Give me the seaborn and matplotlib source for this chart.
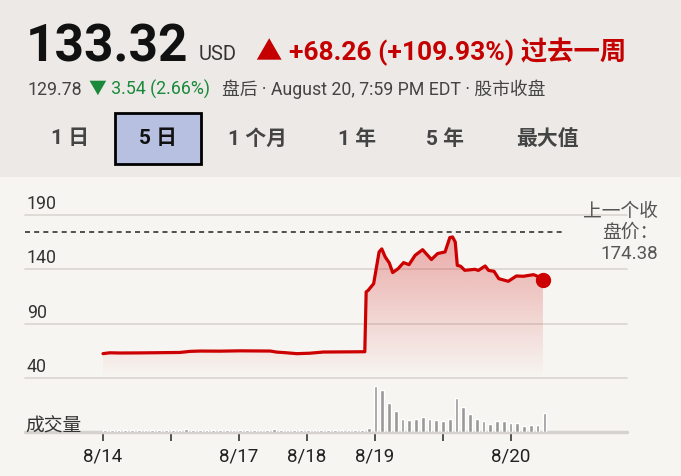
import numpy as np
import matplotlib
matplotlib.use("Agg")
import matplotlib.pyplot as plt
import seaborn as sns
from matplotlib.patches import Rectangle

# price line, x in chart units (0 = 8/14 tick, 1 unit per tick)
price_x = [0.00, 0.10, 0.25, 0.54, 0.84, 1.13, 1.28, 1.43, 1.72, 2.01, 2.24, 2.46, 2.56, 2.68,
           2.85, 3.04, 3.24, 3.49, 3.71, 3.85, 3.87, 3.90, 3.98, 4.06, 4.10, 4.15, 4.21, 4.26,
           4.34, 4.42, 4.50, 4.59, 4.70, 4.83, 4.92, 5.03, 5.10, 5.14, 5.18, 5.21, 5.26, 5.32,
           5.47, 5.52, 5.62, 5.67, 5.75, 5.82, 5.96, 6.08, 6.18, 6.33, 6.38, 6.47]
price_y = [62.4, 63.2, 63.0, 63.1, 63.3, 63.5, 64.5, 64.8, 64.7, 65.0, 64.9, 64.8, 63.8, 63.3,
           62.4, 62.8, 63.9, 64.0, 64.1, 64.2, 119.2, 120.7, 126.8, 156.0, 158.8, 151.4, 145.9, 137.0,
           140.6, 146.2, 144.3, 152.9, 158.1, 149.0, 154.5, 156.0, 169.2, 169.8, 165.2, 143.7, 142.8, 139.1,
           140.0, 139.0, 143.1, 139.0, 138.2, 131.4, 129.0, 133.9, 133.6, 135.1, 133.9, 129.9]

# volume bars (relative height)
volume = [7, 7, 7, 7, 7, 7, 7, 7, 7, 7, 7, 7, 10, 7, 7, 7, 7, 7, 7, 7, 7, 7, 7, 7, 7, 9,
          7, 7, 7, 7, 7, 7, 7, 7, 7, 7, 7,
          6, 6, 12, 138, 127, 88, 64, 39, 37, 39, 46, 40, 37, 34, 40, 103, 76, 53, 40, 32,
          23, 32, 33, 28, 27, 19, 22, 22, 57]
vol_start = 0.03
vol_step = 0.0994

tick_pos = [0, 1, 2, 3, 4, 5, 6]
tick_labels = ["8/14", "", "8/17", "8/18", "8/19", "", "8/20"]
y_ticks = [40, 90, 140, 190]
prev_close = 174.38

ranges = ["1 日", "5 日", "1 个月", "1 年", "5 年", "最大值"]
range_px = [70, 158, 257, 357, 445, 547]

sns.set_theme(style="white")
plt.rcParams["font.family"] = ["Roboto", "Noto Sans CJK SC", "DejaVu Sans"]

W, H = 681, 477
HEAD_BG = "#ece9e6"
CHART_BG = "#f7f5f1"
RED = "#cc0000"

fig = plt.figure(figsize=(W / 100, H / 100), dpi=100)
fig.patch.set_facecolor(HEAD_BG)
fig.add_artist(Rectangle((0, 0), 1, 1 - 177.5 / H, transform=fig.transFigure,
                         facecolor=CHART_BG, edgecolor="none", zorder=0))

def fx(px):
    return px / W

def fy(px):
    return 1 - px / H

#header
fig.text(fx(26), fy(62), "133.32", fontsize=37, fontweight="bold", color="#111111", va="baseline")
fig.text(fx(199), fy(60), "USD", fontsize=14.5, color="#333333", va="baseline")
fig.text(fx(256), fy(60), "▲ +68.26 (+109.93%) 过去一周", fontsize=19, fontweight="bold",
         color="#c40000", va="baseline")
fig.text(fx(27), fy(95), "129.78", fontsize=12.8, color="#444444", va="baseline")
fig.text(fx(89), fy(95), "▼ 3.54 (2.66%)", fontsize=12.8, color="#1a8a3a", va="baseline")
fig.text(fx(222), fy(95), "盘后 · August 20, 7:59 PM EDT · 股市收盘", fontsize=12.8,
         color="#444444", va="baseline")

#range buttons
fig.add_artist(Rectangle((fx(115), fy(165)), 86 / W, 51 / H, transform=fig.transFigure,
                         facecolor="#b8c0e2", edgecolor="#000000", linewidth=2))
for lab, px in zip(ranges, range_px):
    col = "#111111" if lab == "5 日" else "#444444"
    fig.text(fx(px), fy(139), lab, fontsize=15, fontweight="bold", color=col,
             ha="center", va="center")

xmin = (25 - 103) / 68
xmax = (627 - 103) / 68

#price axes
ax = fig.add_axes([fx(25), fy(379), 602 / W, 163 / H])
ax.patch.set_alpha(0)
for v in y_ticks:
    ax.axhline(v, color="#dcd9d5", linewidth=1.3, clip_on=False, zorder=1)
    ax.annotate(str(v), xy=(0.003, v), xycoords=ax.get_yaxis_transform(),
                xytext=(0, 5), textcoords="offset points", va="baseline", ha="left",
                fontsize=12.8, color="#333333")

poly = ax.fill_between(price_x, price_y, 40, color="none")
grad = np.zeros((256, 1, 4))
grad[..., 0] = 0.8
grad[..., 3] = np.linspace(0.32, 0.0, 256)[:, None]
im = ax.imshow(grad, extent=[xmin, xmax, 40, 175], aspect="auto", origin="upper", zorder=2)
im.set_clip_path(poly.get_paths()[0], transform=ax.transData)

sns.lineplot(x=price_x, y=price_y, ax=ax, color=RED, linewidth=2.3, zorder=4)
ax.plot(price_x[-1], price_y[-1], "o", color=RED, markersize=10, zorder=5, clip_on=False)
ax.hlines(prev_close, xmin, (565 - 103) / 68, colors="#333333", linewidth=1.2,
          linestyles=(0, (3, 2.5)), zorder=3)

ax.set_xlim(xmin, xmax)
ax.set_ylim(40, 190)
ax.set_xticks([])
ax.set_yticks([])
sns.despine(ax=ax, left=True, bottom=True)

fig.text(fx(658), fy(203), "上一个收\n盘价：\n174.38", fontsize=13.5, color="#555555",
         ha="right", va="top", multialignment="right", linespacing=1.2)

#volume axes
vax = fig.add_axes([fx(25), fy(433), 602 / W, 53 / H])
vax.patch.set_alpha(0)
vol_x = vol_start + vol_step * np.arange(len(volume))
vax.axhline(0, color="#d6d3cf", linewidth=2.5, clip_on=False, zorder=1)
vax.bar(vol_x, volume, width=0.055, color="#999999", zorder=2)
vax.set_xlim(xmin, xmax)
vax.set_ylim(0, 159)
vax.set_yticks([])
vax.set_xticks(tick_pos)
vax.set_xticklabels(tick_labels)
vax.tick_params(axis="x", direction="out", length=6.5, width=1.3, color="#444444",
                pad=4, labelsize=13.5, labelcolor="#222222", bottom=True)
sns.despine(ax=vax, left=True, bottom=True)

fig.text(fx(25), fy(426), "成交量", fontsize=13.5, color="#333333", va="center")

fig.savefig("out.png", dpi=100, facecolor=fig.get_facecolor())
